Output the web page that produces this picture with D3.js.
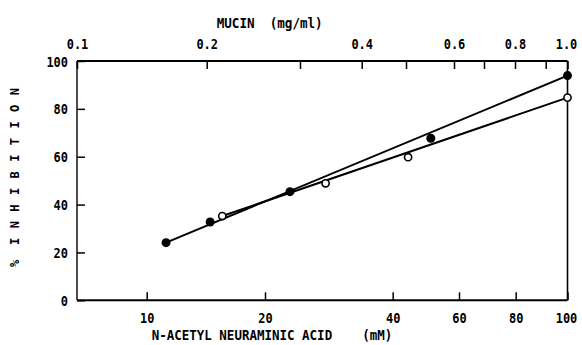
<!DOCTYPE html>
<html><head><meta charset="utf-8">
<script src="https://cdn.jsdelivr.net/npm/d3@7"></script>
<style>
html,body{margin:0;padding:0;background:#fff;}
svg{display:block;}
text{font-family:"DejaVu Sans Mono",monospace;font-weight:bold;fill:#000;}
</style>
</head><body><svg id="c" width="582" height="345"></svg>
<script>
// ---- data ----
const bottomTicks = [10, 20, 40, 60, 80, 100];
const bottomTickLabels = ["10", "20", "40", "60", "80", "100"];
const topTicks = [0.1, 0.2, 0.3, 0.4, 0.5, 0.6, 0.7, 0.8, 0.9, 1.0];
const topTickLabels = ["0.1", "0.2", "", "0.4", "", "0.6", "", "0.8", "", "1.0"];
const yTicks = [0, 20, 40, 60, 80, 100];
const yTickLabels = ["0", "20", "40", "60", "80", "100"];
// N-acetyl neuraminic acid (filled circles, bottom axis)
const nanaConc = [11.2, 14.5, 22.9, 50.5, 100];
const nanaInhib = [24.1, 32.7, 45.4, 67.7, 93.9];
// Mucin (open circles, top axis)
const mucinConc = [0.214, 0.338, 0.504, 1.0];
const mucinInhib = [35.2, 48.9, 59.8, 84.7];
// fitted lines
const nanaFitConc = [11.2, 100];
const nanaFitInhib = [24.1, 93.9];
const mucinFitConc = [0.214, 1.0];
const mucinFitInhib = [35.2, 84.7];
const topTitle = "MUCIN  (mg/ml)";
const bottomTitle = "N-ACETYL NEURAMINIC ACID    (mM)";
const yTitleSym = "%";
const yTitleWord = "INHIBITION";

// ---- scales ----
const svg = d3.select("#c");
const xTop = d3.scaleLog().domain(topTicks)
  .range([77, 206.7, 300, 361.7, 406, 454, 484, 515, 545.7, 567.5]);
const xBot = d3.scaleLog().domain(bottomTicks)
  .range([146.7, 265, 392.7, 459, 515.7, 567.5]);
const y = d3.scaleLinear().domain([0, 100]).range([300.3, 61]);

const L = xTop(0.1), R = xTop(1.0), T = y(100), B = y(0);
const CH = 7.2; // char advance
const FS = 14;

function squeeze(sel) {
  sel.attr("font-size", FS)
     .attr("textLength", function(){ const t = d3.select(this).text(); return t.length ? t.length * CH : null; })
     .attr("lengthAdjust", "spacingAndGlyphs");
}

// ---- axes ----
const gB = svg.append("g").attr("transform", `translate(0,${B})`)
  .call(d3.axisBottom(xBot).tickValues(bottomTicks).tickSize(-8)
        .tickFormat((d, i) => bottomTickLabels[i]));
gB.select(".domain").remove();
gB.selectAll(".tick line").attr("stroke-width", 1.5);
gB.selectAll(".tick text").attr("y", 22.7).attr("dy", null)
  .attr("x", (d, i) => i === bottomTicks.length - 1 ? -1.5 : 0).call(squeeze);

const gT = svg.append("g").attr("transform", `translate(0,${T})`)
  .call(d3.axisTop(xTop).tickValues(topTicks).tickSize(-8)
        .tickFormat((d, i) => topTickLabels[i]));
gT.select(".domain").remove();
gT.selectAll(".tick line").attr("stroke-width", 1.5);
gT.selectAll(".tick text").attr("y", -12).attr("dy", null)
  .attr("x", (d, i) => i === topTicks.length - 1 ? -1.5 : 0).call(squeeze);

const gL = svg.append("g").attr("transform", `translate(${L},0)`)
  .call(d3.axisLeft(y).tickValues(yTicks).tickSize(-8)
        .tickFormat((d, i) => yTickLabels[i]));
gL.select(".domain").remove();
gL.selectAll(".tick line").attr("stroke-width", 1.5);
gL.selectAll(".tick text").attr("x", -9).attr("dy", null).attr("y", 5).call(squeeze);

svg.selectAll(".tick text").attr("font-family", null).attr("fill", "#000");

// ---- frame ----
const frame = svg.append("g").attr("stroke", "#000").attr("fill", "none");
frame.append("line").attr("x1", L).attr("x2", R).attr("y1", T).attr("y2", T).attr("stroke-width", 2);
frame.append("line").attr("x1", L).attr("x2", R).attr("y1", B).attr("y2", B).attr("stroke-width", 2);
frame.append("line").attr("x1", L).attr("x2", L).attr("y1", T).attr("y2", B).attr("stroke-width", 1.4);
frame.append("line").attr("x1", R).attr("x2", R).attr("y1", T).attr("y2", B).attr("stroke-width", 1.6);

// ---- titles ----
svg.append("text").attr("x", 269.7).attr("y", 28).attr("text-anchor", "middle")
  .attr("xml:space", "preserve").style("white-space", "pre").text(topTitle)
  .attr("font-size", FS).attr("textLength", topTitle.length * 7.57).attr("lengthAdjust", "spacingAndGlyphs");
svg.append("text").attr("x", 272).attr("y", 340).attr("text-anchor", "middle")
  .attr("xml:space", "preserve").style("white-space", "pre").text(bottomTitle)
  .attr("font-size", FS).attr("textLength", bottomTitle.length * 7.52).attr("lengthAdjust", "spacingAndGlyphs");
svg.append("text").attr("transform", "translate(19,267) rotate(-90)")
  .attr("font-size", 12).text(yTitleSym);
svg.append("text").attr("transform", "translate(19,245) rotate(-90)")
  .attr("font-size", 12).attr("textLength", 157).attr("lengthAdjust", "spacing").text(yTitleWord);

// ---- lines ----
const nanaFit = nanaFitConc.map((c, i) => [xBot(c), y(nanaFitInhib[i])]);
const mucinFit = mucinFitConc.map((c, i) => [xTop(c), y(mucinFitInhib[i])]);
const line = d3.line();
svg.append("path").attr("d", line(nanaFit)).attr("stroke", "#000").attr("stroke-width", 2).attr("fill", "none");
svg.append("path").attr("d", line(mucinFit)).attr("stroke", "#000").attr("stroke-width", 2).attr("fill", "none");

// ---- points ----
svg.append("g").selectAll("circle").data(mucinConc).join("circle")
  .attr("cx", (d) => xTop(d)).attr("cy", (d, i) => y(mucinInhib[i]))
  .attr("r", 3.6).attr("fill", "#fff").attr("stroke", "#000").attr("stroke-width", 1.6);
svg.append("g").selectAll("circle").data(nanaConc).join("circle")
  .attr("cx", (d) => xBot(d)).attr("cy", (d, i) => y(nanaInhib[i]))
  .attr("r", 4.5).attr("fill", "#000");
</script>
</body></html>
